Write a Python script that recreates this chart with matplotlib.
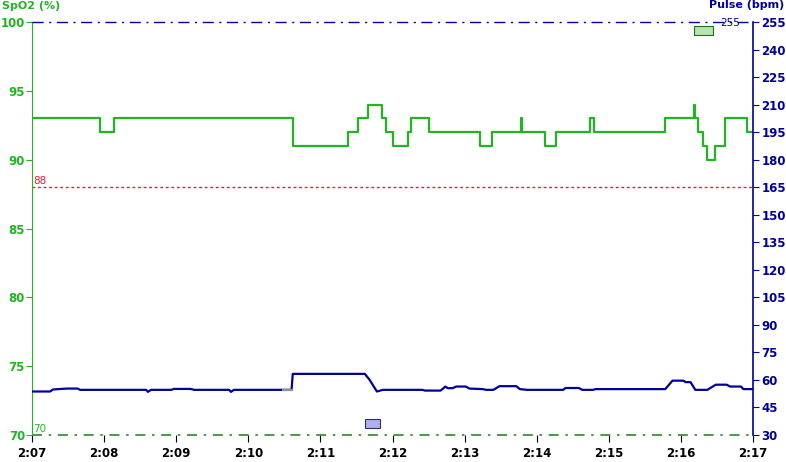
import matplotlib
matplotlib.use("Agg")
import matplotlib.pyplot as plt
from matplotlib.patches import Rectangle

# time in seconds after 2:07:00
spo2_t = [0, 57, 68, 217, 263, 271, 280, 291, 295, 300, 313, 315, 330, 373, 383,
          407, 408, 427, 436, 464, 468, 527, 551, 552, 554, 558, 562, 568, 577, 595, 600]
spo2_v = [93, 92, 93, 91, 92, 93, 94, 93, 92, 91, 92, 93, 92, 91, 92,
          93, 92, 91, 92, 93, 92, 93, 94, 93, 92, 91, 90, 91, 93, 92, 92]

pulse_t = [0, 15, 17.5, 29, 38, 40, 95, 96.5, 99, 116, 118, 132, 135, 164, 165.6, 168,
           216, 217, 277, 281, 287, 292, 325, 327, 340, 344, 346, 350, 353, 361, 364,
           375, 378, 384, 389, 403, 406, 412, 442, 444, 455, 458, 467, 469, 527, 533,
           542, 544, 548, 552, 562, 569, 578, 581, 590, 592, 600]
pulse_v = [53.7, 53.7, 54.8, 55.3, 55.3, 54.6, 54.6, 53.5, 54.6, 54.6, 55.1, 55.1, 54.6, 54.6, 53.5, 54.6,
           54.6, 63.3, 63.3, 60.0, 53.7, 54.6, 54.6, 54.2, 54.2, 56.4, 55.5, 55.5, 56.4, 56.4, 55.3,
           55.0, 54.6, 54.6, 56.6, 56.6, 55.0, 54.6, 54.6, 55.6, 55.6, 54.6, 54.6, 55.0, 55.0, 59.6,
           59.6, 58.8, 58.8, 54.6, 54.6, 57.4, 57.4, 56.4, 56.4, 55.0, 55.0]
# short grey stretch of the pulse trace (sec)
pulse_grey = (209, 216)

x_labels = ["2:07", "2:08", "2:09", "2:10", "2:11", "2:12", "2:13", "2:14", "2:15", "2:16", "2:17"]
spo2_ticks = [70, 75, 80, 85, 90, 95, 100]
pulse_ticks = list(range(30, 256, 15))

# event markers (start sec, end sec)
spo2_event = (551, 567)
pulse_event = (277, 290)

green = "#22b422"
navy = "#00009a"

fig = plt.figure(figsize=(7.86, 4.62), dpi=100)
ax = fig.add_axes([32/786, 1-435/462, (753-32)/786, (435-22)/462])
ax2 = ax.twinx()

tm = [t/60 for t in spo2_t]
ax.step(tm, spo2_v, where="post", color=green, lw=1.6, zorder=3)
ax.set_xlim(0, 10)
ax.set_ylim(70, 100)

pm = [t/60 for t in pulse_t]
ax2.plot(pm, pulse_v, color=navy, lw=1.6, zorder=3)
ax2.plot([pulse_grey[0]/60, pulse_grey[1]/60], [54.6, 54.6], color="#909090", lw=1.6, zorder=4)
ax2.set_ylim(30, 255)

# reference lines
ax2.axhline(255, color=navy, lw=1, ls=(0, (8, 4, 1.5, 4)), zorder=2, clip_on=False)
ax.axhline(88, color="#e0203a", lw=1, ls=(0, (2, 2)), zorder=2)
ax.axhline(70, color="#2a8a2a", lw=1.2, ls=(0, (6, 4, 1.5, 4)), zorder=2, clip_on=False)
ax2.text(0.982, 0.985, "255", transform=ax2.transAxes, color=navy, fontsize=7.5,
         ha="right", va="bottom")
ax.text(0.011, 88.1, "88", color="#e0203a", fontsize=7.5, va="bottom")
ax.text(0.013, 70.1, "70", color=green, fontsize=7.5, va="bottom")

# event boxes
ax.add_patch(Rectangle((spo2_event[0]/60, 0.969), (spo2_event[1]-spo2_event[0])/60, 0.021,
                       transform=ax.get_xaxis_transform(), fc="#b0e8b0", ec="#207020", lw=0.8, zorder=5))
ax2.add_patch(Rectangle((pulse_event[0]/60, 0.017), (pulse_event[1]-pulse_event[0])/60, 0.022,
                        transform=ax2.get_xaxis_transform(), fc="#b0b0f0", ec="#303060", lw=0.8, zorder=5))

for a in (ax, ax2):
    a.spines["top"].set_visible(False)
    a.spines["bottom"].set_visible(False)
ax.spines["right"].set_visible(False)
ax2.spines["left"].set_visible(False)
ax.spines["left"].set_color(green)
ax2.spines["right"].set_color(navy)
ax2.spines["right"].set_linewidth(1.2)

ax.set_xticks(range(11))
ax.set_xticklabels(x_labels, fontsize=8.5, fontweight="bold")
ax.tick_params(axis="x", length=5, color="black")
ax.set_yticks(spo2_ticks)
ax.set_yticklabels([str(v) for v in spo2_ticks], fontsize=8.5, fontweight="bold", color=green)
ax.tick_params(axis="y", length=4, color=green, pad=1)
ax2.set_yticks(pulse_ticks)
ax2.set_yticklabels([str(v) for v in pulse_ticks], fontsize=8.5, fontweight="bold", color=navy)
ax2.tick_params(axis="y", length=4, color=navy, pad=2)

fig.text(2/786, 1-6/462, "SpO2 (%)", color=green, fontsize=8, fontweight="bold", va="center", ha="left")
fig.text(784/786, 1-5/462, "Pulse (bpm)", color=navy, fontsize=8, fontweight="bold", va="center", ha="right")

fig.savefig("out.png", dpi=100)
